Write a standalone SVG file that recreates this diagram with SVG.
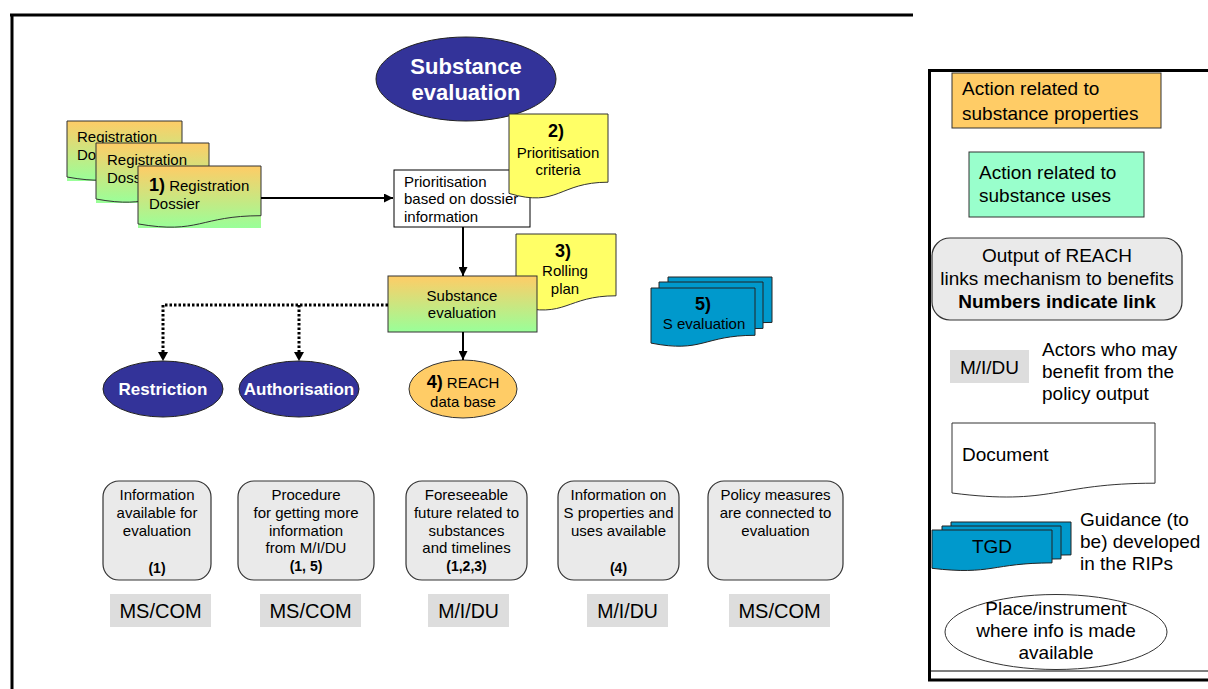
<svg xmlns="http://www.w3.org/2000/svg" width="1208" height="689" viewBox="0 0 1208 689">
<defs>
<linearGradient id="og" x1="0" y1="0" x2="0" y2="1">
<stop offset="0" stop-color="#FFCC66"/>
<stop offset="1" stop-color="#99FF99"/>
</linearGradient>
<marker id="ah" viewBox="0 0 10 10" refX="10" refY="5" markerUnits="userSpaceOnUse" markerWidth="9" markerHeight="9" orient="auto">
<path d="M0,0 L10,5 L0,10 Z" fill="#000"/>
</marker>
<style>
text{font-family:"Liberation Sans",Arial,sans-serif;fill:#000}
.t15{font-size:15px}
.t19{font-size:19px}
.b{font-weight:bold}
.c{text-anchor:middle}
.w{fill:#fff}
.doc{stroke:#333;stroke-width:1}
.out{fill:#EAEAEA;stroke:#333;stroke-width:1.2}
.actor{fill:#DDDDDD}
.blue{fill:#0099CC;stroke:#222;stroke-width:1}
.yel{fill:#FFFF66;stroke:#333;stroke-width:1}
.conn{stroke:#000;stroke-width:2;fill:none}
.dot{stroke:#000;stroke-width:3;fill:none;stroke-dasharray:2.5 2}
.frame{stroke:#000;stroke-width:3;fill:none}
</style>
</defs>
<rect width="1208" height="689" fill="#fff"/>

<g id="frames">
<path class="frame" d="M10,15 H913 M12,14 V689"/>
<path class="frame" d="M928,70.5 H1208 M929.5,69 V681 M928,680 H1208"/>
<path d="M929,671 H1208" stroke="#000" stroke-width="1.2"/>
</g>

<g id="title">
<ellipse cx="466" cy="79" rx="90" ry="42" fill="#333399" stroke="#222" stroke-width="1"/>
<text class="b c w" x="466" y="74" font-size="22">Substance</text>
<text class="b c w" x="466" y="100" font-size="22">evaluation</text>
</g>

<g id="dossier-a">
<rect x="67" y="121" width="115" height="60" fill="url(#og)"/>
<path class="doc" fill="none" d="M67,121 H182 V169.1 C124.5,169.1 124.5,187.4 67,177 Z"/>
<text class="t15" x="77" y="142">Registration</text>
<text class="t15" x="77" y="160">Do</text>
</g>
<g id="dossier-b">
<rect x="96" y="143" width="113" height="60" fill="url(#og)"/>
<path class="doc" fill="none" d="M96,143 H209 V191.1 C152.5,191.1 152.5,209.4 96,199 Z"/>
<text class="t15" x="107" y="165">Registration</text>
<text class="t15" x="107" y="183">Doss</text>
</g>
<g id="dossier-1">
<rect x="138" y="166" width="123" height="62" fill="url(#og)"/>
<path class="doc" fill="none" d="M138,166 H261 V215.7 C199.5,215.7 199.5,234.6 138,223.9 Z"/>
<text x="149" y="191"><tspan class="b" font-size="18">1)</tspan><tspan class="t15"> Registration</tspan></text>
<text class="t15" x="149" y="209">Dossier</text>
</g>

<g id="prioritisation">
<rect x="394" y="170" width="136" height="57" fill="#fff" stroke="#000" stroke-width="1"/>
<text class="t15" x="404" y="187">Prioritisation</text>
<text class="t15" x="404" y="204">based on dossier</text>
<text class="t15" x="404" y="222">information</text>
</g>

<g id="criteria">
<path class="yel" d="M509,114 H608 V182.2 C558.5,182.2 558.5,208.1 509,193.4 Z"/>
<text class="b c" x="556" y="137" font-size="18">2)</text>
<text class="t15 c" x="558" y="158">Prioritisation</text>
<text class="t15 c" x="558" y="175">criteria</text>
</g>

<g id="rolling-plan">
<path class="yel" d="M516,234 H616 V295.8 C566,295.8 566,319.2 516,305.9 Z"/>
<text class="b c" x="563" y="257" font-size="18">3)</text>
<text class="t15 c" x="565" y="276">Rolling</text>
<text class="t15 c" x="565" y="294">plan</text>
</g>

<g id="substance-evaluation">
<rect x="388" y="276" width="149" height="56" fill="url(#og)" stroke="#333" stroke-width="1"/>
<text class="t15 c" x="462" y="301">Substance</text>
<text class="t15 c" x="462" y="318">evaluation</text>
</g>

<g id="reach-db">
<ellipse cx="463" cy="389" rx="54" ry="29" fill="#FFCC66" stroke="#333" stroke-width="1"/>
<text class="c" x="463" y="388"><tspan class="b" font-size="18">4)</tspan><tspan class="t15"> REACH</tspan></text>
<text class="t15 c" x="463" y="407">data base</text>
</g>

<g id="restriction">
<ellipse cx="163" cy="389" rx="60" ry="28" fill="#333399" stroke="#222" stroke-width="1"/>
<text class="b c w" x="163" y="395" font-size="17">Restriction</text>
</g>
<g id="authorisation">
<ellipse cx="299" cy="389" rx="60" ry="28" fill="#333399" stroke="#222" stroke-width="1"/>
<text class="b c w" x="299" y="395" font-size="17">Authorisation</text>
</g>

<g id="s-evaluation">
<path class="blue" d="M668,277 H772 V322.4 C720,322.4 720,340.3 668,330.1 Z"/>
<path class="blue" d="M659,282 H763 V328.4 C711,328.4 711,346.3 659,336.1 Z"/>
<path class="blue" d="M651,288 H755 V335.3 C703,335.3 703,353.3 651,343.1 Z"/>
<text class="b c" x="703" y="310" font-size="18">5)</text>
<text class="t15 c" x="704" y="329">S evaluation</text>
</g>

<g id="connectors">
<line class="conn" x1="261" y1="198" x2="393" y2="198" marker-end="url(#ah)"/>
<line class="conn" x1="463" y1="227" x2="463" y2="276" marker-end="url(#ah)"/>
<line class="conn" x1="463" y1="332" x2="463" y2="360" marker-end="url(#ah)"/>
<polyline class="dot" points="388,305 163,305 163,353"/>
<line class="dot" x1="299" y1="305" x2="299" y2="353"/>
<path d="M158,352 L168,352 L163,361 Z" fill="#000"/>
<path d="M294,352 L304,352 L299,361 Z" fill="#000"/>
</g>

<g id="out-1">
<rect class="out" x="103" y="481" width="108" height="99" rx="16"/>
<text class="t15 c" x="157" y="500">Information</text>
<text class="t15 c" x="157" y="518">available for</text>
<text class="t15 c" x="157" y="536">evaluation</text>
<text class="c b" x="157" y="573" font-size="14">(1)</text>
</g>
<g id="out-2">
<rect class="out" x="238" y="481" width="136" height="99" rx="16"/>
<text class="t15 c" x="306" y="500">Procedure</text>
<text class="t15 c" x="306" y="518">for getting more</text>
<text class="t15 c" x="306" y="536">information</text>
<text class="t15 c" x="306" y="553">from M/I/DU</text>
<text class="c b" x="306" y="571" font-size="14">(1, 5)</text>
</g>
<g id="out-3">
<rect class="out" x="406" y="481" width="121" height="99" rx="16"/>
<text class="t15 c" x="466.5" y="500">Foreseeable</text>
<text class="t15 c" x="466.5" y="518">future related to</text>
<text class="t15 c" x="466.5" y="536">substances</text>
<text class="t15 c" x="466.5" y="553">and timelines</text>
<text class="c b" x="466.5" y="571" font-size="14">(1,2,3)</text>
</g>
<g id="out-4">
<rect class="out" x="558" y="481" width="121" height="99" rx="16"/>
<text class="t15 c" x="618.5" y="500">Information on</text>
<text class="t15 c" x="618.5" y="518">S properties and</text>
<text class="t15 c" x="618.5" y="536">uses available</text>
<text class="c b" x="618.5" y="573" font-size="14">(4)</text>
</g>
<g id="out-5">
<rect class="out" x="708" y="481" width="135" height="99" rx="16"/>
<text class="t15 c" x="775.5" y="500">Policy measures</text>
<text class="t15 c" x="775.5" y="518">are connected to</text>
<text class="t15 c" x="775.5" y="536">evaluation</text>
</g>

<g id="actors">
<rect class="actor" x="110" y="594" width="101" height="33"/>
<text class="c" x="160.5" y="618" font-size="20">MS/COM</text>
<rect class="actor" x="260" y="594" width="101" height="33"/>
<text class="c" x="310.5" y="618" font-size="20">MS/COM</text>
<rect class="actor" x="428" y="594" width="81" height="33"/>
<text class="c" x="468.5" y="618" font-size="19.5">M/I/DU</text>
<rect class="actor" x="587" y="594" width="81" height="33"/>
<text class="c" x="627.5" y="618" font-size="19.5">M/I/DU</text>
<rect class="actor" x="729" y="594" width="101" height="33"/>
<text class="c" x="779.5" y="618" font-size="20">MS/COM</text>
</g>

<g id="legend-properties">
<rect x="952" y="73" width="209" height="55" fill="#FFCC66" stroke="#333" stroke-width="1"/>
<text class="t19" x="962" y="95">Action related to</text>
<text class="t19" x="962" y="120">substance properties</text>
</g>
<g id="legend-uses">
<rect x="969" y="152" width="175" height="65" fill="#99FFCC" stroke="#333" stroke-width="1"/>
<text class="t19" x="979" y="179">Action related to</text>
<text class="t19" x="979" y="202">substance uses</text>
</g>
<g id="legend-output">
<rect class="out" x="932" y="238" width="250" height="82" rx="18"/>
<text class="t19 c" x="1057" y="262">Output of REACH</text>
<text class="t19 c" x="1057" y="285">links mechanism to benefits</text>
<text class="t19 c b" x="1057" y="308">Numbers indicate link</text>
</g>
<g id="legend-actors">
<rect class="actor" x="950" y="350" width="79" height="33"/>
<text class="t19 c" x="989.5" y="374">M/I/DU</text>
<text class="t19" x="1042" y="356">Actors who may</text>
<text class="t19" x="1042" y="378">benefit from the</text>
<text class="t19" x="1042" y="400">policy output</text>
</g>
<g id="legend-document">
<path fill="#fff" stroke="#333" stroke-width="1" d="M952,423 H1155 V483.2 C1053.5,483.2 1053.5,506 952,493 Z"/>
<text class="t19" x="962" y="461">Document</text>
</g>
<g id="legend-guidance">
<path class="blue" d="M951,522 H1071 V554.9 C1011,554.9 1011,567.4 951,560.3 Z"/>
<path class="blue" d="M942,526 H1061 V558.9 C1001.5,558.9 1001.5,571.4 942,564.3 Z"/>
<path class="blue" d="M932,530 H1052 V562.9 C992,562.9 992,575.4 932,568.3 Z"/>
<text class="t19 c" x="992" y="553">TGD</text>
<text class="t19" x="1080" y="526">Guidance (to</text>
<text class="t19" x="1080" y="548">be) developed</text>
<text class="t19" x="1080" y="570">in the RIPs</text>
</g>
<g id="legend-place">
<ellipse cx="1056" cy="632" rx="111" ry="37.5" fill="#fff" stroke="#333" stroke-width="1"/>
<text class="t19 c" x="1056" y="615">Place/instrument</text>
<text class="t19 c" x="1056" y="637">where info is made</text>
<text class="t19 c" x="1056" y="659">available</text>
</g>
</svg>
